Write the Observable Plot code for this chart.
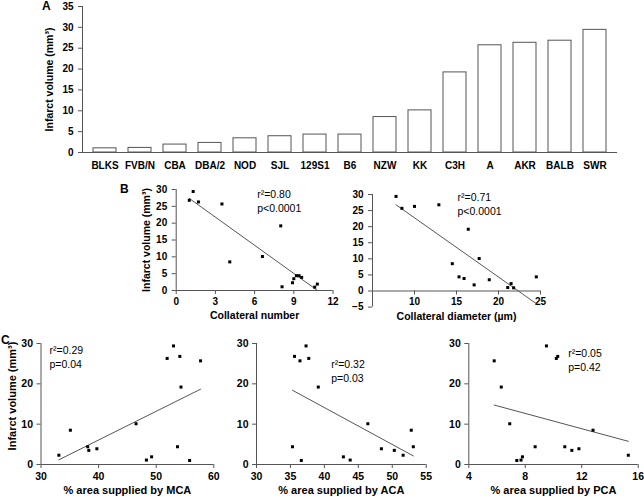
<!DOCTYPE html>
<html><head><meta charset="utf-8">
<script src="https://cdn.jsdelivr.net/npm/d3@7"></script>
<script src="https://cdn.jsdelivr.net/npm/@observablehq/plot@0.6"></script>
<style>
html,body{margin:0;padding:0;background:#fff;}
body{width:644px;height:497px;position:relative;overflow:hidden;font-family:'Liberation Sans',Arial,Helvetica,sans-serif;}
.letter{position:absolute;font-weight:bold;line-height:1;color:#000;}
svg{position:absolute;overflow:visible;}
</style></head><body>
<div class="letter" style="left:42px;top:0px;font-size:12px">A</div>
<div class="letter" style="left:120px;top:183px;font-size:12px">B</div>
<div class="letter" style="left:1px;top:334px;font-size:12px">C</div>
<script>
// ---- Panel A data ----
const strains = ["BLKS","FVB/N","CBA","DBA/2","NOD","SJL","129S1","B6","NZW","KK","C3H","A","AKR","BALB","SWR"];
const infarctVolume = [1.0,1.1,1.9,2.3,3.4,3.9,4.3,4.3,8.5,10.1,19.2,25.7,26.3,26.8,29.4];
const yTicksA = [0,5,10,15,20,25,30,35];

// ---- Panel B data ----
const collNumX = [1.0,1.3,1.7,3.5,4.1,6.6,8.0,8.1,8.9,9.0,9.2,9.4,9.6,10.6,10.8];
const collNumY = [26.8,29.4,26.3,25.7,8.5,10.1,19.2,1.1,2.3,3.5,4.4,4.4,3.9,1.0,1.9];
const diamX = [7.8,8.5,10.0,12.9,16.4,14.5,17.7,15.3,15.9,17.1,18.9,21.1,21.5,21.8,24.5];
const diamY = [29.4,25.7,26.3,26.8,19.2,8.5,10.1,4.4,3.9,1.9,3.5,1.1,2.3,1.0,4.4];
const xTicksNum = [0,3,6,9,12];
const yTicksNum = [0,5,10,15,20,25,30];
const xTicksDiam = [10,15,20,25];
const yTicksDiam = [-5,0,5,10,15,20,25,30];

// ---- Panel C data ----
const mcaX = [33.1,35.1,38.1,38.3,39.7,46.5,48.3,49.2,51.9,53.0,53.7,54.1,54.3,55.8,57.7];
const mcaY = [2.3,8.5,4.4,3.5,3.9,10.1,1.1,1.9,26.3,29.4,4.4,26.8,19.2,1.0,25.7];
const acaX = [35.6,36.4,37.3,37.7,39.1,35.3,36.6,42.8,43.8,46.4,48.4,50.3,51.6,52.8,53.1];
const acaY = [26.8,25.7,29.4,26.3,19.2,4.4,1.0,1.9,1.1,10.1,3.9,3.5,2.3,8.5,4.4];
const pcaX = [5.8,6.3,6.9,7.4,7.7,7.8,8.7,9.5,10.2,10.3,10.8,11.3,11.8,12.8,15.3];
const pcaY = [25.7,19.2,10.1,1.0,1.1,1.9,4.4,29.4,26.3,26.8,4.4,3.5,3.9,8.5,2.3];
const yTicksC = [0,10,20,30];
const xTicksMCA = [30,40,50,60];
const xTicksACA = [30,35,40,45,50,55];
const xTicksPCA = [4,8,12,16];

const yLabel = "Infarct volume (mm³)";
const FONT = "'Liberation Sans', Arial, Helvetica, sans-serif";
const AX = "#555";

function place(svg, left, top) {
  svg.style.left = left + "px";
  svg.style.top = top + "px";
  document.body.appendChild(svg);
}

// ---- Panel A ----
const barData = strains.map((s, i) => ({strain: s, v: infarctVolume[i]}));
const plotA = Plot.plot({
  width: 644, height: 172,
  marginLeft: 82, marginRight: 27, marginTop: 6, marginBottom: 20,
  style: {fontFamily: FONT, fontSize: "10px", fontWeight: "bold", color: "#000", background: "transparent", overflow: "visible"},
  x: {domain: strains, paddingInner: 0.33, paddingOuter: 0.165, label: null},
  y: {domain: [0, 35], label: null},
  marks: [
    Plot.barY(barData, {x: "strain", y: "v", fill: "white", stroke: AX, strokeWidth: 1}),
    Plot.ruleY([0], {stroke: AX}),
    Plot.frame({anchor: "left", stroke: AX}),
    Plot.axisY({ticks: yTicksA, tickSize: 4, tickPadding: 5, stroke: AX, label: null}),
    Plot.axisX({tickSize: 0, tickPadding: 9, label: null}),
    Plot.text([yLabel], {text: d => d, frameAnchor: "left", rotate: -90, dx: -33, textAnchor: "middle", lineAnchor: "middle", fontSize: 10.5})
  ]
});
place(plotA, 0, 0);

// ---- scatter panels ----
function scatter(c) {
  const data = c.xs.map((x, i) => ({x, y: c.ys[i]}));
  const marks = [
    Plot.ruleX([c.xDomain[0]], {y1: c.yDomain[0], y2: c.yDomain[1], stroke: AX}),
    Plot.ruleY([0], {x1: c.xDomain[0], x2: c.xDomain[1], stroke: AX}),
    Plot.axisY({ticks: c.yTicks, tickSize: 4, tickPadding: c.ytp, stroke: AX, label: null, fontSize: c.tickFont}),
    Plot.axisX({ticks: c.xTicks, tickSize: 4, tickPadding: c.xtp, stroke: AX, label: null, fontSize: c.tickFont}),
    Plot.linearRegressionY(data, {x: "x", y: "y", ci: 0, stroke: AX, strokeWidth: 1}),
    Plot.dot(data, {x: "x", y: "y", symbol: "square", r: 1.7, fill: "black", stroke: null}),
    Plot.text([c.stat], {text: d => d, frameAnchor: "top-left", dx: c.sdx, dy: c.sdy, textAnchor: "start", lineAnchor: "top", fontWeight: "normal", fontSize: 10.5, lineHeight: 1.35}),
    Plot.text([c.xLabel], {text: d => d, frameAnchor: "bottom", dy: c.xldy, textAnchor: "middle", lineAnchor: "middle", fontSize: c.labelFont})
  ];
  if (c.yLabel) marks.push(Plot.text([c.yLabel], {text: d => d, frameAnchor: "left", rotate: -90, dx: c.yldx, dy: c.yldy || 0, textAnchor: "middle", lineAnchor: "middle", fontSize: c.labelFont}));
  const svg = Plot.plot({
    width: c.width, height: c.height,
    marginLeft: c.ml, marginRight: c.mr, marginTop: c.mt, marginBottom: c.mb,
    style: {fontFamily: FONT, fontSize: "10px", fontWeight: "bold", color: "#000", background: "transparent", overflow: "visible"},
    x: {domain: c.xDomain, label: null},
    y: c.yRange ? {domain: c.yDomain, range: c.yRange, label: null} : {domain: c.yDomain, label: null},
    marks
  });
  place(svg, c.left, c.top);
}

scatter({left: 130, top: 180, width: 210, height: 150, ml: 45.7, mr: 7.5, mt: 9, mb: 40,
  xs: collNumX, ys: collNumY, xDomain: [0, 12], yDomain: [0, 30], xTicks: xTicksNum, yTicks: yTicksNum,
  ytp: 5, xtp: 3, tickFont: 10, labelFont: 10.5,
  stat: "r²=0.80\np<0.0001", sdx: 81, sdy: -2,
  xLabel: "Collateral number", xldy: 25, yLabel: yLabel, yldx: -29.7});

scatter({left: 340, top: 180, width: 304, height: 150, ml: 32, mr: 104, mt: 14, mb: 39.5,
  yRange: [126.6, 14],
  xs: diamX, ys: diamY, xDomain: [5, 25], yDomain: [-5, 30], xTicks: xTicksDiam, yTicks: yTicksDiam,
  ytp: 5, xtp: 3, tickFont: 10, labelFont: 10.5,
  stat: "r²=0.71\np<0.0001", sdx: 85, sdy: -4,
  xLabel: "Collateral diameter (µm)", xldy: 25.5});

scatter({left: 0, top: 335, width: 220, height: 162, ml: 40.5, mr: 6.7, mt: 8, mb: 33,
  xs: mcaX, ys: mcaY, xDomain: [30, 60], yDomain: [0, 30], xTicks: xTicksMCA, yTicks: yTicksC,
  ytp: 4, xtp: 4, tickFont: 10.5, labelFont: 11,
  stat: "r²=0.29\np=0.04", sdx: 8.5, sdy: 0,
  xLabel: "% area supplied by MCA", xldy: 26, yLabel: yLabel, yldx: -28.5, yldy: -8});

scatter({left: 220, top: 335, width: 210, height: 162, ml: 36, mr: 4.3, mt: 8, mb: 33,
  xs: acaX, ys: acaY, xDomain: [30, 55], yDomain: [0, 30], xTicks: xTicksACA, yTicks: yTicksC,
  ytp: 4, xtp: 4, tickFont: 10.5, labelFont: 11,
  stat: "r²=0.32\np=0.03", sdx: 74.7, sdy: 14.5,
  xLabel: "% area supplied by ACA", xldy: 26});

scatter({left: 430, top: 335, width: 214, height: 162, ml: 38.3, mr: 6.3, mt: 8, mb: 33,
  xs: pcaX, ys: pcaY, xDomain: [4, 16], yDomain: [0, 30], xTicks: xTicksPCA, yTicks: yTicksC,
  ytp: 4, xtp: 4, tickFont: 10.5, labelFont: 11,
  stat: "r²=0.05\np=0.42", sdx: 99.4, sdy: 3.5,
  xLabel: "% area supplied by PCA", xldy: 26});
</script>
</body></html>
